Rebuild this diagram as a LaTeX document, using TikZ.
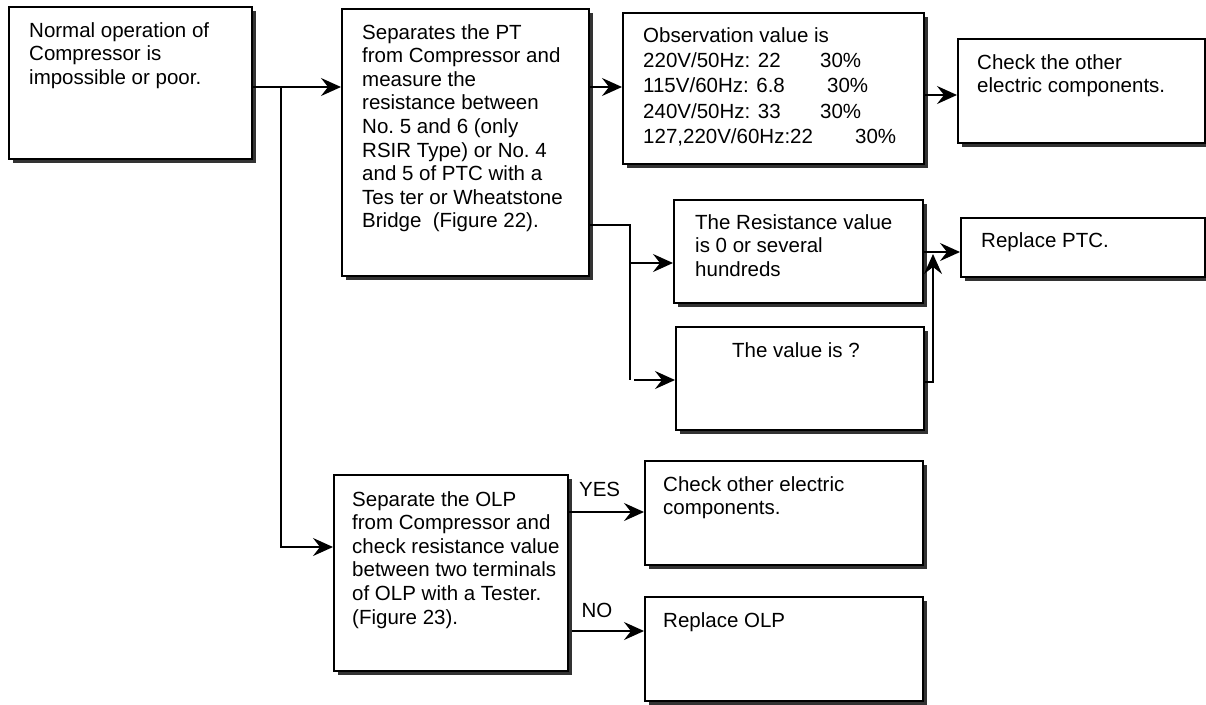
\documentclass[tikz,border=0pt]{standalone}
\usepackage{fontspec}
\setmainfont{Liberation Sans}
\usetikzlibrary{arrows.meta,shadows}
\begin{document}
\begin{tikzpicture}[x=1pt,y=-1pt,
  box/.style={draw,line width=2.3pt,fill=white,rectangle,inner sep=0pt,anchor=north west,
    drop shadow={shadow xshift=4pt,shadow yshift=-4pt,fill=black!80,opacity=1}},
  txt/.style={anchor=north west,inner sep=0pt,align=left,font=\fontsize{20.5}{23.6}\selectfont},
  lbl/.style={inner sep=0pt,font=\fontsize{20.5}{22}\selectfont},
  conn/.style={line width=1.7pt},
  arr/.style={line width=1.7pt,-{Stealth[length=20pt,width=18pt,inset=7pt]}}]
\useasboundingbox[fill=white] (0,0) rectangle (1206,704);
% boxes
\node[box,minimum width=243pt,minimum height=152pt] (b1) at (8,6) {};
\node[box,minimum width=247pt,minimum height=267pt] (b2) at (341,8) {};
\node[box,minimum width=301pt,minimum height=151pt] (b3) at (622,12) {};
\node[box,minimum width=247pt,minimum height=104pt] (b4) at (957,38) {};
\node[box,minimum width=249pt,minimum height=103pt] (b5) at (673,199) {};
\node[box,minimum width=248pt,minimum height=103pt] (b6) at (675,326) {};
\node[box,minimum width=244pt,minimum height=59pt] (b7) at (960,217) {};
\node[box,minimum width=234pt,minimum height=196pt] (b8) at (333,474) {};
\node[box,minimum width=278pt,minimum height=104pt] (b9) at (644,460) {};
\node[box,minimum width=278pt,minimum height=104pt] (b10) at (644,596) {};
% texts
\node[txt] (t1) at (29,22) {Normal operation of\\Compressor is\\impossible or poor.};
\node[txt] (t2) at (362,24) {Separates the PT\\from Compressor and\\measure the\\resistance between\\No.\ 5 and 6 (only\\RSIR Type) or No.\ 4\\and 5 of PTC with a\\Tes ter or Wheatstone\\Bridge\ \ (Figure 22).};
\node[txt,font=\fontsize{20.5}{25.4}\selectfont] (t3) at (643,27) {Observation value is\\
\makebox[177pt][l]{220V/50Hz: 22}30\%\\
\makebox[184pt][l]{115V/60Hz: 6.8}30\%\\
\makebox[177pt][l]{240V/50Hz: 33}30\%\\
\makebox[212pt][l]{127,220V/60Hz:22}30\%};
\node[txt] (t4) at (977,54) {Check the other\\electric components.};
\node[txt] (t5) at (695,214) {The Resistance value\\is 0 or several\\hundreds};
\node[txt] (t6) at (732,342) {The value is ?};
\node[txt] (t7) at (981,232) {Replace PTC.};
\node[txt] (t8) at (352,491) {Separate the OLP\\from Compressor and\\check resistance value\\between two terminals\\of OLP with a Tester.\\(Figure 23).};
\node[txt] (t9) at (663,476) {Check other electric\\components.};
\node[txt] (t10) at (663,612) {Replace OLP};
% junction coordinates
\coordinate (j1) at (281,87);
\coordinate (j2) at (281,547);
\coordinate (j3) at (923,95);
\coordinate (j4) at (630,225);
\coordinate (j5) at (630,263);
\coordinate (j6) at (630,380);
\coordinate (j6b) at (634,380);
\coordinate (j7) at (933,252);
\coordinate (j8) at (933,382);
\coordinate (j9) at (933,254);
\coordinate (j10) at (567,512);
\coordinate (j11) at (572,631);
% connectors
\draw[arr] (b1.east |- j1) -- (b2.west |- j1);
\draw[arr] (j1) -- (j2) -- (b8.west |- j2);
\draw[arr] (b2.east |- j1) -- (b3.west |- j1);
\draw[arr] (b3.east |- j3) -- (b4.west |- j3);
\draw[conn] (b2.east |- j4) -- (j4) -- (j6);
\draw[arr] (j5) -- (b5.west |- j5);
\draw[arr] (j6b) -- (b6.west |- j6b);
\draw[arr] (b5.east |- j7) -- (b7.west |- j7);
\draw[arr] (b6.east |- j8) -- (j8) -- (j9);
\draw[arr] (b8.east |- j10) -- node[lbl,above=14pt,xshift=-7pt] (yes) {YES} (b9.west |- j10);
\draw[arr] (j11) -- node[lbl,above=12pt,xshift=-11pt] (no) {NO} (b10.west |- j11);
\end{tikzpicture}
\end{document}
